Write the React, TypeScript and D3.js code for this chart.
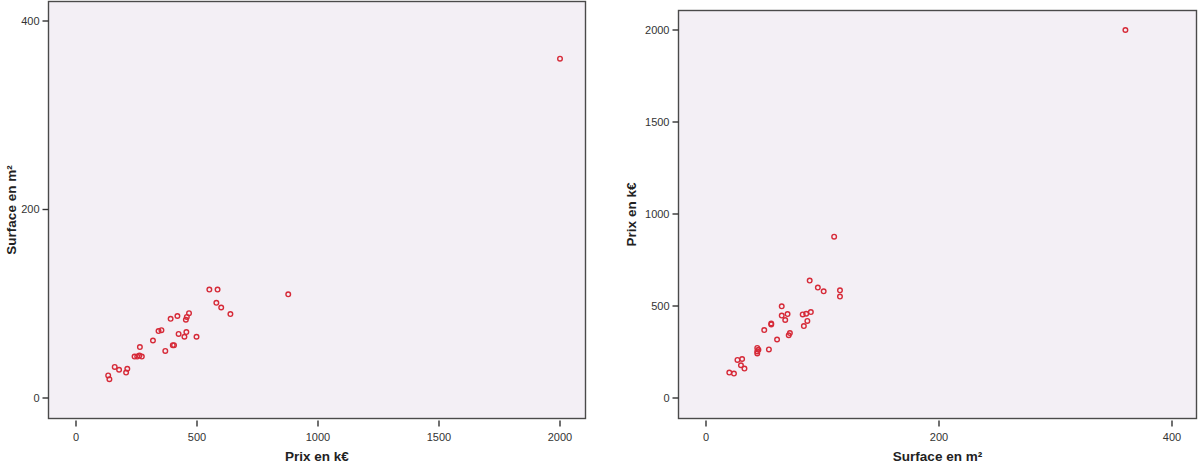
import React from "react";
import * as d3 from "d3";

// Prix en k€ and Surface en m² for each property (same observations in both panels)
const prix = [2000, 877, 551, 585, 580, 600, 638, 467, 458, 454, 419, 391, 353, 341, 318, 424, 456, 448, 498, 369, 400, 405, 264, 242, 253, 262, 272, 212, 207, 178, 160, 138, 133];
const surface = [360, 110, 115, 115, 101, 96, 89, 90, 86, 83, 87, 84, 72, 71, 61, 68, 70, 65, 65, 50, 56, 56, 54, 44, 44, 45, 44, 31, 27, 30, 33, 20, 24];

const prixTicks = [0, 500, 1000, 1500, 2000];
const surfaceTicks = [0, 200, 400];

const prixLabel = "Prix en k€";
const surfaceLabel = "Surface en m²";

const BG = "#f3eff5";
const FRAME = "#4a4a4a";
const DOT = "#d62a38";
const TICK_FONT = "'Liberation Sans', Arial, sans-serif";

type PanelProps = {
  left: number; top: number; right: number; bottom: number;
  xDomain: [number, number]; xRange: [number, number];
  yDomain: [number, number]; yRange: [number, number];
  xs: number[]; ys: number[];
  xTicks: number[]; yTicks: number[];
  xTitle: string; yTitle: string; yTitleX: number;
};

function Panel(p: PanelProps) {
  const x = d3.scaleLinear().domain(p.xDomain).range(p.xRange);
  const y = d3.scaleLinear().domain(p.yDomain).range(p.yRange);
  const fmt = d3.format("d");
  const midX = (p.left + p.right) / 2;
  const midY = (p.top + p.bottom) / 2;
  return (
    <g>
      <rect x={p.left} y={p.top} width={p.right - p.left} height={p.bottom - p.top} fill={BG} stroke={FRAME} strokeWidth={1.4} />
      {p.xTicks.map((t) => (
        <g key={"x" + t}>
          <line x1={x(t)} x2={x(t)} y1={p.bottom + 2} y2={p.bottom + 8} stroke="#333" strokeWidth={1.4} />
          <text x={x(t)} y={p.bottom + 22} textAnchor="middle" fontSize={11} fontFamily={TICK_FONT} fill="#333">{fmt(t)}</text>
        </g>
      ))}
      {p.yTicks.map((t) => (
        <g key={"y" + t}>
          <line x1={p.left - 6} x2={p.left} y1={y(t)} y2={y(t)} stroke="#333" strokeWidth={1.4} />
          <text x={p.left - 9} y={y(t)} dy="0.35em" textAnchor="end" fontSize={11} fontFamily={TICK_FONT} fill="#333">{fmt(t)}</text>
        </g>
      ))}
      <text x={midX} y={p.bottom + 42} textAnchor="middle" fontSize={13.5} fontWeight="bold" fontFamily={TICK_FONT} fill="#222">{p.xTitle}</text>
      <text transform={`translate(${p.yTitleX},${midY}) rotate(-90)`} textAnchor="middle" dy="0.35em" fontSize={13.5} fontWeight="bold" fontFamily={TICK_FONT} fill="#222">{p.yTitle}</text>
      {p.xs.map((v, i) => (
        <circle key={i} cx={x(v)} cy={y(p.ys[i])} r={2.3} fill="none" stroke={DOT} strokeWidth={1.4} />
      ))}
    </g>
  );
}

export default function App() {
  return (
    <svg width={1200} height={464} style={{ position: "absolute", left: 0, top: 0, background: "#fff" }}>
      <Panel
        left={48.5} top={1.5} right={585.5} bottom={418.5}
        xDomain={[0, 2000]} xRange={[76, 560]}
        yDomain={[0, 400]} yRange={[398, 21]}
        xs={prix} ys={surface}
        xTicks={prixTicks} yTicks={surfaceTicks}
        xTitle={prixLabel} yTitle={surfaceLabel} yTitleX={11}
      />
      <Panel
        left={678.5} top={10.5} right={1196.5} bottom={418.5}
        xDomain={[0, 400]} xRange={[706, 1172]}
        yDomain={[0, 2000]} yRange={[398, 30]}
        xs={surface} ys={prix}
        xTicks={surfaceTicks} yTicks={prixTicks}
        xTitle={surfaceLabel} yTitle={prixLabel} yTitleX={631}
      />
    </svg>
  );
}
